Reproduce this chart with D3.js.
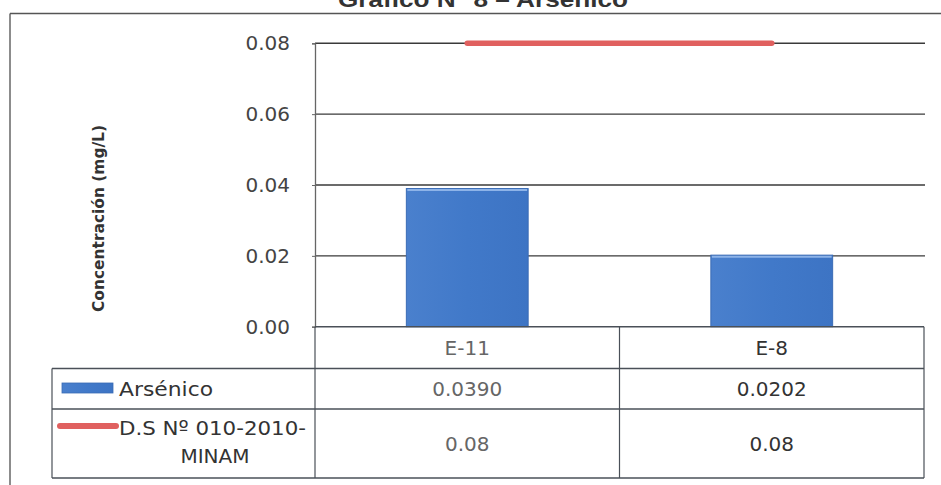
<!DOCTYPE html>
<html>
<head>
<meta charset="utf-8">
<script src="https://cdn.jsdelivr.net/npm/d3@7"></script>
<style>
  html, body { margin: 0; padding: 0; background: #fff; }
  svg { display: block; }
</style>
</head>
<body>
<svg id="chart" width="941" height="485"></svg>
<script>
// ---- data ----
const chartTitle = "Gráfico N° 8 – Arsénico";
const yTitle = "Concentración (mg/L)";
const categories = ["E-11", "E-8"];
const seriesNames = ["Arsénico", "D.S Nº 010-2010-\nMINAM"];
const arsenico = [0.0390, 0.0202];
const norma = [0.08, 0.08];
const arsenicoLabels = ["0.0390", "0.0202"];
const normaLabels = ["0.08", "0.08"];
const yTicks = [0, 0.02, 0.04, 0.06, 0.08];
const yTickLabels = ["0.00", "0.02", "0.04", "0.06", "0.08"];

// ---- layout ----
const svg = d3.select("#chart");
const plotL = 315, plotR = 924, plotT = 43.3, plotB = 326.7;
const tableL = 52;
const rowBounds = [plotB, 368.5, 409, 478];
const font = "'DejaVu Sans', sans-serif";

const y = d3.scaleLinear().domain([0, 0.08]).range([plotB, plotT]);
const xCol = d3.scaleBand().domain(categories).range([plotL, plotR]);
const xBar = d3.scaleBand().domain(categories).range([plotL, plotR]).paddingInner(0.6).paddingOuter(0.3);

// defs
const defs = svg.append("defs");
const g1 = defs.append("linearGradient").attr("id", "barGrad").attr("x1", "0").attr("x2", "1").attr("y1", "0").attr("y2", "0");
g1.append("stop").attr("offset", "0%").attr("stop-color", "#4a80cd");
g1.append("stop").attr("offset", "50%").attr("stop-color", "#4179c9");
g1.append("stop").attr("offset", "100%").attr("stop-color", "#3d74c4");

// outer frame
svg.append("line").attr("x1", 10).attr("x2", 10).attr("y1", 13.5).attr("y2", 485)
  .attr("stroke", "#666").attr("stroke-width", 1.5);
svg.append("line").attr("x1", 10).attr("x2", 941).attr("y1", 13.5).attr("y2", 13.5)
  .attr("stroke", "#555").attr("stroke-width", 1.5);

// title (clipped at top, as in the reference)
svg.append("text").attr("x", 483).attr("y", 7).attr("text-anchor", "middle")
  .attr("font-family", "'Liberation Sans', Arial, sans-serif").attr("font-weight", "bold")
  .attr("font-size", 22).attr("fill", "#333")
  .attr("textLength", 290).attr("lengthAdjust", "spacingAndGlyphs")
  .text(chartTitle);

// gridlines
svg.append("g").selectAll("line").data(yTicks.filter(d => d > 0)).join("line")
  .attr("x1", plotL).attr("x2", plotR + 1)
  .attr("y1", d => y(d)).attr("y2", d => y(d))
  .attr("stroke", "#3a3a3a").attr("stroke-width", 1.4);

// y axis
const yAxis = d3.axisLeft(y).tickValues(yTicks).tickSize(3).tickPadding(22)
  .tickFormat((d, i) => yTickLabels[i]);
const ya = svg.append("g").attr("transform", `translate(${plotL},0)`).call(yAxis);
ya.select(".domain").attr("stroke", "#666").attr("stroke-width", 1.3);
ya.selectAll(".tick line").attr("stroke", "#666");
ya.selectAll(".tick text").attr("font-family", font).attr("font-size", 20).attr("fill", "#444");

// y title
svg.append("text")
  .attr("transform", `translate(104,218.5) rotate(-90)`)
  .attr("text-anchor", "middle")
  .attr("font-family", font).attr("font-weight", "bold").attr("font-size", 15).attr("fill", "#333")
  .attr("textLength", 187).attr("lengthAdjust", "spacingAndGlyphs")
  .text(yTitle);

// bars
svg.append("g").selectAll("rect").data(categories).join("rect")
  .attr("x", d => xBar(d))
  .attr("width", xBar.bandwidth())
  .attr("y", (d, i) => y(arsenico[i]))
  .attr("height", (d, i) => y(0) - y(arsenico[i]))
  .attr("fill", "url(#barGrad)")
  .attr("stroke", "#3a6bb5").attr("stroke-width", 1);
svg.append("g").selectAll("line").data(categories).join("line")
  .attr("x1", d => xBar(d) + 1).attr("x2", d => xBar(d) + xBar.bandwidth() - 1)
  .attr("y1", (d, i) => y(arsenico[i]) + 1.5).attr("y2", (d, i) => y(arsenico[i]) + 1.5)
  .attr("stroke", "#8db3e8").attr("stroke-width", 2);

// norm line
const line = d3.line().x((d, i) => xCol(categories[i]) + xCol.bandwidth() / 2).y(d => y(d));
svg.append("path").datum(norma).attr("d", line)
  .attr("fill", "none").attr("stroke", "#e0605f").attr("stroke-width", 5.5)
  .attr("stroke-linecap", "round");

// ---- data table ----
const tg = svg.append("g");
const stroke = "#4a5058";
tg.append("line").attr("x1", plotL).attr("x2", plotR).attr("y1", rowBounds[0]).attr("y2", rowBounds[0])
  .attr("stroke", stroke).attr("stroke-width", 1.4);
[1, 2, 3].forEach(k => {
  tg.append("line").attr("x1", tableL).attr("x2", plotR).attr("y1", rowBounds[k]).attr("y2", rowBounds[k])
    .attr("stroke", stroke).attr("stroke-width", 1.4);
});
const colEdges = categories.map(c => xCol(c)).concat([plotR]);
tg.selectAll("line.v").data(colEdges).join("line").attr("class", "v")
  .attr("x1", d => d).attr("x2", d => d).attr("y1", rowBounds[0]).attr("y2", rowBounds[3])
  .attr("stroke", stroke).attr("stroke-width", 1.2);
tg.append("line").attr("x1", tableL).attr("x2", tableL).attr("y1", rowBounds[1]).attr("y2", rowBounds[3])
  .attr("stroke", stroke).attr("stroke-width", 1.2);

const colColors = ["#666", "#333"];
const cx = c => xCol(c) + xCol.bandwidth() / 2;
const midRow = k => (rowBounds[k] + rowBounds[k + 1]) / 2;

tg.selectAll("text.cat").data(categories).join("text").attr("class", "cat")
  .attr("x", cx).attr("y", midRow(0)).attr("dy", "0.36em").attr("text-anchor", "middle")
  .attr("font-family", font).attr("font-size", 20).attr("fill", (d, i) => colColors[i])
  .text(d => d);
tg.selectAll("text.v1").data(categories).join("text").attr("class", "v1")
  .attr("x", cx).attr("y", midRow(1)).attr("dy", "0.36em").attr("text-anchor", "middle")
  .attr("font-family", font).attr("font-size", 20).attr("fill", (d, i) => colColors[i])
  .text((d, i) => arsenicoLabels[i]);
tg.selectAll("text.v2").data(categories).join("text").attr("class", "v2")
  .attr("x", cx).attr("y", midRow(2)).attr("dy", "0.36em").attr("text-anchor", "middle")
  .attr("font-family", font).attr("font-size", 20).attr("fill", (d, i) => colColors[i])
  .text((d, i) => normaLabels[i]);

// legend keys + labels in table
tg.append("rect").attr("x", 62).attr("y", 383).attr("width", 51).attr("height", 10)
  .attr("fill", "url(#barGrad)").attr("stroke", "#3a6bb5").attr("stroke-width", 0.8);
tg.append("text").attr("x", 119).attr("y", midRow(1)).attr("dy", "0.36em")
  .attr("font-family", font).attr("font-size", 20).attr("fill", "#333")
  .attr("textLength", 94).attr("lengthAdjust", "spacingAndGlyphs")
  .text(seriesNames[0]);

tg.append("line").attr("x1", 60).attr("x2", 116).attr("y1", 426).attr("y2", 426)
  .attr("stroke", "#e0605f").attr("stroke-width", 6).attr("stroke-linecap", "round");
const normLines = seriesNames[1].split("\n");
tg.append("text").attr("x", 119).attr("y", 435)
  .attr("font-family", font).attr("font-size", 20).attr("fill", "#333")
  .attr("textLength", 187).attr("lengthAdjust", "spacingAndGlyphs")
  .text(normLines[0]);
tg.append("text").attr("x", 215).attr("y", 463).attr("text-anchor", "middle")
  .attr("font-family", font).attr("font-size", 20).attr("fill", "#333")
  .text(normLines[1]);
</script>
</body>
</html>
